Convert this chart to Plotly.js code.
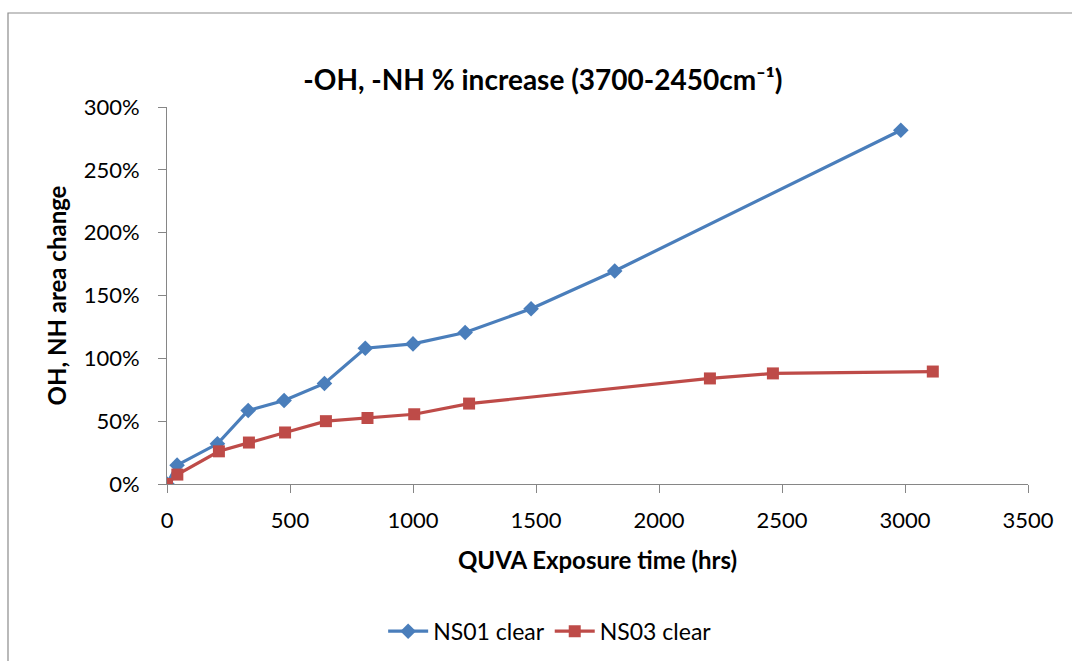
<!DOCTYPE html>
<html>
<head>
<meta charset="utf-8">
<script src="https://cdn.plot.ly/plotly-3.0.1.min.js"></script>
<style>
  html, body { margin: 0; padding: 0; background: #fff; overflow: hidden; }
  #chart { width: 1072px; height: 661px; }
</style>
</head>
<body>
<div id="chart"></div>
<script>
// Exposure times (hrs) and OH/NH band area change (fraction) per sample
const ns01Hours = [0, 41, 205, 330, 476, 640, 806, 1000, 1212, 1480, 1820, 2983];
const ns01Change = [0, 0.15, 0.32, 0.585, 0.665, 0.80, 1.08, 1.115, 1.205, 1.395, 1.695, 2.815];

const ns03Hours = [0, 42, 211, 333, 480, 646, 815, 1005, 1228, 2207, 2463, 3113];
const ns03Change = [0, 0.075, 0.26, 0.33, 0.41, 0.50, 0.525, 0.555, 0.64, 0.84, 0.88, 0.895];

const seriesNames = ['NS01 clear', 'NS03 clear'];
const yTickVals = [0, 0.5, 1, 1.5, 2, 2.5, 3];
const xTickVals = [0, 500, 1000, 1500, 2000, 2500, 3000, 3500];

const font = 'Lato, "Open Sans", sans-serif';

const traces = [
  {
    x: ns01Hours, y: ns01Change, name: seriesNames[0], type: 'scatter', mode: 'lines+markers',
    line: { color: '#4A7EBB', width: 3.2 },
    marker: { symbol: 'diamond', size: 12, color: '#4A7EBB' }
  },
  {
    x: ns03Hours, y: ns03Change, name: seriesNames[1], type: 'scatter', mode: 'lines+markers',
    line: { color: '#BE4B48', width: 3.2 },
    marker: { symbol: 'square', size: 12, color: '#BE4B48' }
  }
];

const layout = {
  width: 1072, height: 661,
  margin: { l: 167, r: 44, t: 107, b: 177 },
  paper_bgcolor: '#fff', plot_bgcolor: '#fff',
  font: { family: font, size: 22, color: '#000' },
  title: {
    text: '<b>-OH, -NH % increase (3700-2450cm\u207B\u00B9)</b>',
    font: { family: font, size: 28, color: '#000' },
    x: 0.5065, xanchor: 'center', y: 0.878, yanchor: 'middle'
  },
  xaxis: {
    range: [0, 3500], tickvals: xTickVals, ticktext: xTickVals.map(String),
    showgrid: false, zeroline: false,
    showline: true, linecolor: '#868686', linewidth: 1,
    ticks: 'outside', ticklen: 8, tickcolor: '#868686',
    ticklabelstandoff: 9,
    tickfont: { family: font, size: 22, color: '#000' },
    title: { text: '<b>QUVA Exposure time (hrs)</b>', font: { family: font, size: 24, color: '#000' }, standoff: 19 }
  },
  yaxis: {
    range: [0, 3], tickvals: yTickVals, ticktext: yTickVals.map(v => Math.round(v * 100) + '%'),
    showgrid: false, zeroline: false,
    showline: true, linecolor: '#868686', linewidth: 1,
    ticks: 'outside', ticklen: 8, tickcolor: '#868686',
    ticklabelstandoff: 14,
    tickfont: { family: font, size: 22, color: '#000' },
    title: { text: '<b>OH, NH area change</b>', font: { family: font, size: 24, color: '#000' }, standoff: 10 }
  },
  // outer chart-area frame (left and top edges; the rest runs off the page)
  shapes: [{
    type: 'path', xref: 'paper', yref: 'paper',
    path: 'M -0.18467 -0.5 L -0.18467 1.24934 L 1.07 1.24934',
    line: { color: '#8c8c8c', width: 1.2 }
  }],
  showlegend: true,
  legend: {
    orientation: 'h', xref: 'paper', x: 0.445, xanchor: 'center',
    yref: 'container', y: 0.045, yanchor: 'middle',
    font: { family: font, size: 23, color: '#000' },
    itemwidth: 40, tracegroupgap: 0
  }
};

Plotly.newPlot('chart', traces, layout, { displayModeBar: false, staticPlot: true });
</script>
</body>
</html>
